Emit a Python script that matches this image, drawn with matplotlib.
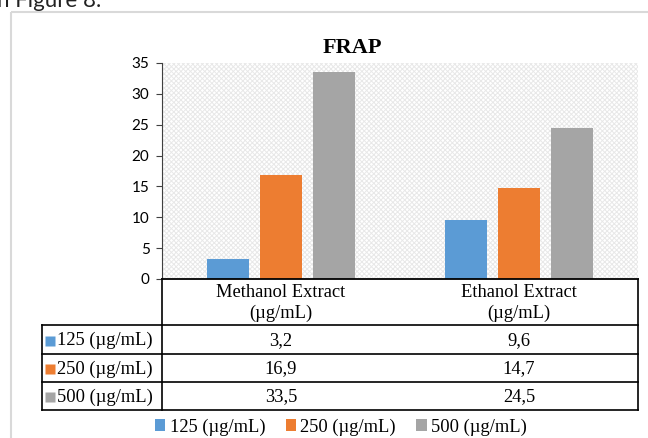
import numpy as np
import matplotlib
matplotlib.use("Agg")
import matplotlib.pyplot as plt
from matplotlib.patches import Rectangle, Patch

# data
extracts = ["Methanol Extract\n(µg/mL)", "Ethanol Extract\n(µg/mL)"]
doses = ["125 (µg/mL)", "250 (µg/mL)", "500 (µg/mL)"]
frap_125 = [3.2, 9.6]
frap_250 = [16.9, 14.7]
frap_500 = [33.5, 24.5]
series = [frap_125, frap_250, frap_500]
colors = ["#5B9BD5", "#ED7D31", "#A5A5A5"]
yticks = [0, 5, 10, 15, 20, 25, 30, 35]

W, H = 648, 438
serif = ["Liberation Serif", "DejaVu Serif"]
plt.rcParams["hatch.linewidth"] = 0.7

fig = plt.figure(figsize=(W / 100, H / 100), dpi=100)
fig.patch.set_facecolor("white")

# pixel overlay for frame, table and caption text
ov = fig.add_axes([0, 0, 1, 1], zorder=0)
ov.set_xlim(0, W)
ov.set_ylim(H, 0)
ov.axis("off")

L, R, T, B = 162, 638, 63, 279
ax = fig.add_axes([L / W, 1 - B / H, (R - L) / W, (B - T) / H], zorder=1)
ax.set_facecolor("white")
ax.add_patch(Rectangle((0, 0), 1, 1, transform=ax.transAxes, facecolor="white",
                       edgecolor="#e8e8e8", hatch="xxxxxxx", lw=0, zorder=0))

x = np.arange(len(extracts))
bw, pitch = 0.176, 0.223
for i, vals in enumerate(series):
    ax.bar(x + (i - 1) * pitch, vals, width=bw, color=colors[i], zorder=2)

ax.set_xlim(-0.5, len(extracts) - 0.5)
ax.set_ylim(0, 35)
ax.set_yticks(yticks)
ax.set_xticks([])
for s in ["top", "right"]:
    ax.spines[s].set_visible(False)
ax.spines["left"].set_color("#404040")
ax.spines["bottom"].set_color("black")
ax.spines["bottom"].set_linewidth(1.3)
ax.tick_params(axis="y", direction="out", length=4, width=0.8, color="#404040",
               pad=5, labelsize=11)
for t in ax.get_yticklabels():
    t.set_fontfamily(["Lato", "DejaVu Sans"])

# title
ov.text(352, 53, "FRAP", fontsize=16, fontweight="bold", family=serif,
        ha="center", va="baseline")

# caption line above the chart, partly off the top edge
ov.text(-3, 7, "n Figure 8.", fontsize=16, family=["Lato", "DejaVu Sans"],
        ha="left", va="baseline", color="#222222")

# chart frame
ov.add_patch(Rectangle((11, 12), 660, 450, fill=False, edgecolor="#d9d9d9", lw=1.5))

# data table under the axis
rows = [279, 325, 354, 382, 410]
lw = 1.2
ov.plot([L, L], [B, rows[-1]], color="black", lw=lw)
ov.plot([R, R], [B, rows[-1]], color="black", lw=lw)
ov.plot([42, 42], [rows[1], rows[-1]], color="black", lw=lw)
for yy in rows[1:]:
    ov.plot([42, R], [yy, yy], color="black", lw=lw)

col_w = (R - L) / len(extracts)
for j, name in enumerate(extracts):
    cx = L + col_w * (j + 0.5)
    ov.text(cx, (rows[0] + rows[1]) / 2 + 1, name, fontsize=13.3, family=serif,
            ha="center", va="center", linespacing=1.35)
    for i, vals in enumerate(series):
        cy = (rows[i + 1] + rows[i + 2]) / 2 + 1
        ov.text(cx, cy, f"{vals[j]:.1f}".replace(".", ","), fontsize=13.3,
                family=serif, ha="center", va="center")

for i, lab in enumerate(doses):
    cy = (rows[i + 1] + rows[i + 2]) / 2
    ov.plot([50], [cy + 1], marker="s", ms=6.5, color=colors[i], mec="none")
    ov.text(57, cy + 1, lab, fontsize=13.3, family=serif, ha="left", va="center")

# legend
handles = [Patch(facecolor=c, edgecolor="none") for c in colors]
fig.legend(handles, doses, loc="center", bbox_to_anchor=(341 / W, 1 - 427 / H),
           ncol=3, frameon=False, prop={"family": serif, "size": 13.3},
           handlelength=0.55, handleheight=0.55, handletextpad=0.25,
           columnspacing=1.1, borderpad=0)

fig.savefig("out.png", dpi=100, facecolor="white")
